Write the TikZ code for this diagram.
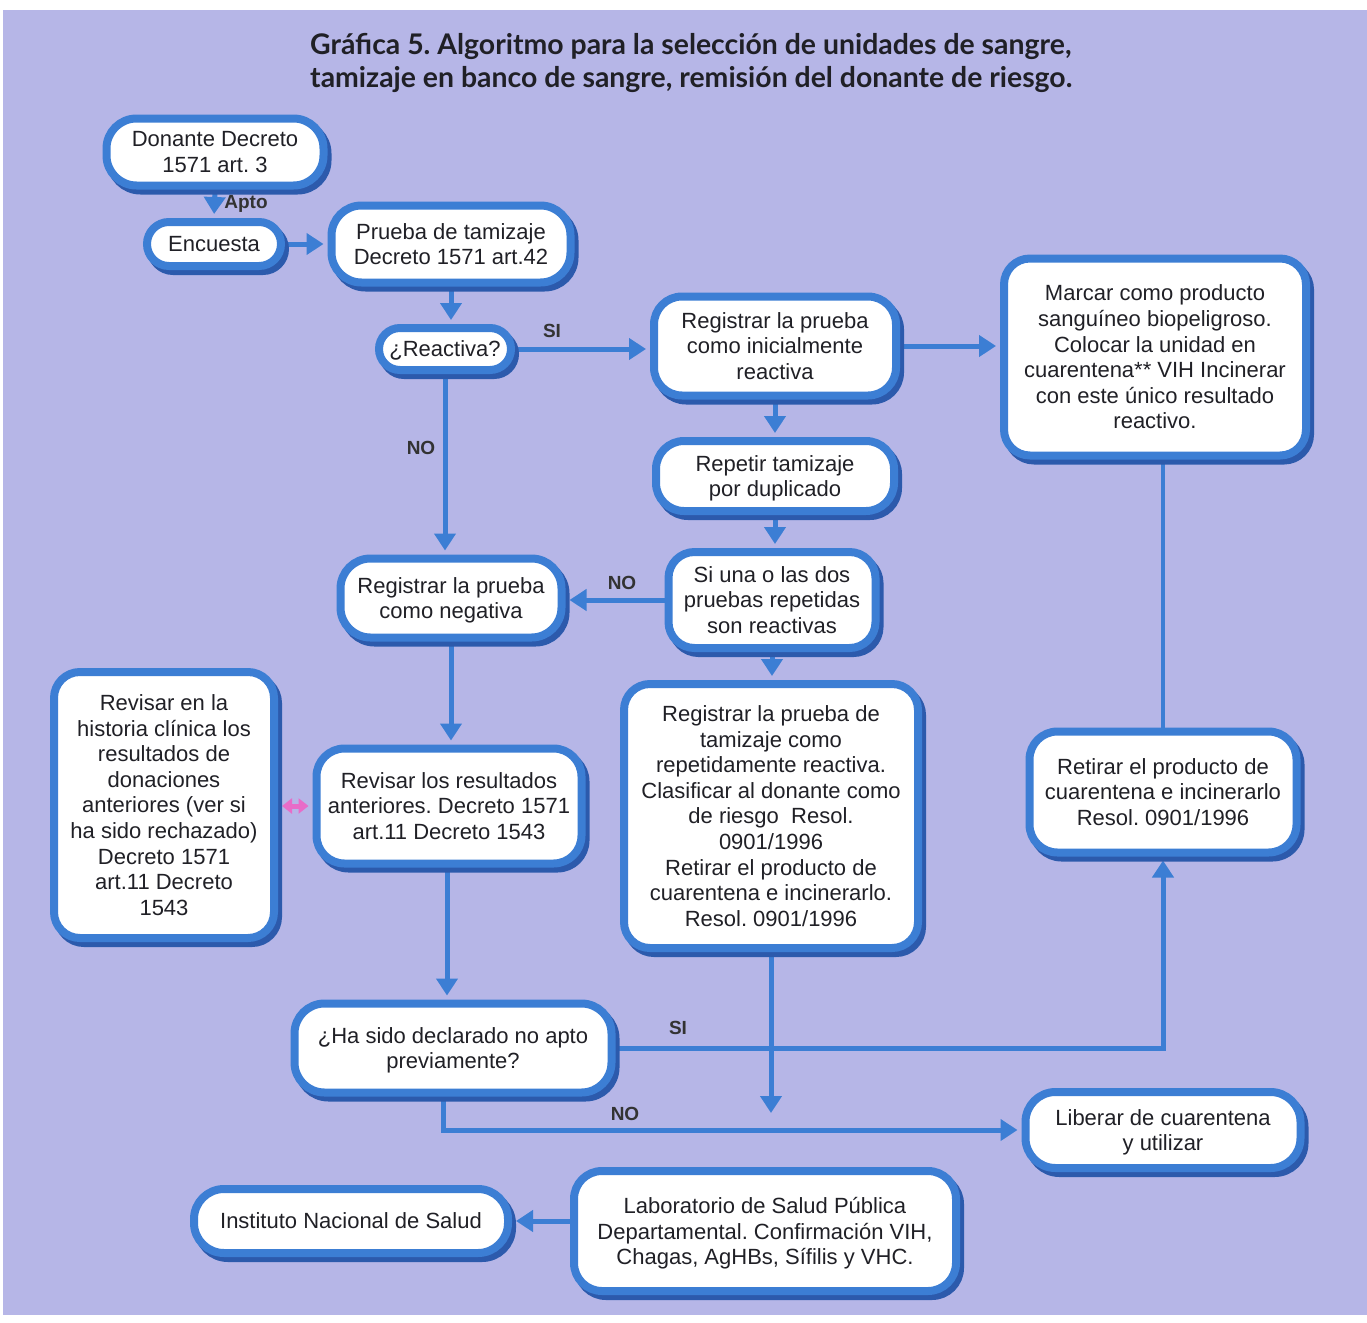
\documentclass[tikz,border=0pt]{standalone}
\usepackage{fontspec}
\setmainfont{Liberation Sans}
\newfontfamily\titlefont{Lato}
\usetikzlibrary{arrows.meta,shadows}
\definecolor{bg}{RGB}{182,182,231}
\definecolor{bblue}{RGB}{60,126,212}
\definecolor{sblue}{RGB}{44,90,172}
\definecolor{txt}{RGB}{32,32,38}
\definecolor{pinkc}{RGB}{232,108,200}
\pgfdeclarelayer{bgfill}
\pgfdeclarelayer{edges}
\pgfsetlayers{bgfill,edges,main}
\frenchspacing
\tikzset{
  box/.style={draw=bblue, line width=8pt, fill=white, rounded corners=#1,
    align=center, inner sep=0pt, text=txt, text depth=0pt,
    font=\fontsize{22}{25.6}\selectfont,
    drop shadow={shadow xshift=4pt, shadow yshift=-5pt, fill=sblue, draw=sblue, line width=8pt, opacity=1}},
  box/.default=26pt,
  conn/.style={draw=bblue, line width=5pt, shorten >=4pt, -{Triangle[length=17pt,width=21pt]}},
  plain/.style={draw=bblue, line width=4pt},
  lbl/.style={font=\bfseries\fontsize{19}{22}\selectfont, text=black!80, inner sep=0pt},
}
\begin{document}
\begin{tikzpicture}[x=1pt,y=-1pt]
\useasboundingbox (0,0) rectangle (1367,1322);
\begin{pgfonlayer}{bgfill}
\fill[white] (0,0) rectangle (1367,1322);
\fill[bg] (3,10) rectangle (1367,1315);
\end{pgfonlayer}

\node[anchor=north west, align=left, inner sep=0pt, text=txt,
  font=\titlefont\bfseries\fontsize{28.4}{33}\selectfont] (title) at (310,33)
  {Gráfica 5. Algoritmo para la selección de unidades de sangre,\\
   tamizaje en banco de sangre, remisión del donante de riesgo.};

\node[box=30pt, minimum width=217pt, minimum height=67pt] (donante) at (215,152) {Donante Decreto\\1571 art. 3};
\node[box=22pt, minimum width=134pt, minimum height=44pt] (encuesta) at (214,244) {Encuesta};
\node[box=30pt, minimum width=239pt, minimum height=77pt] (prueba) at (451,244) {Prueba de tamizaje\\Decreto 1571 art.42};
\node[box=21pt, minimum width=132pt, minimum height=42pt] (reactiva) at (445,349) {¿Reactiva?};
\node[box=28pt, minimum width=242pt, minimum height=99pt] (reginic) at (775,346) {Registrar la prueba\\como inicialmente\\reactiva};
\node[box=26pt, minimum width=302pt, minimum height=197pt] (marcar) at (1155,357) {Marcar como producto\\sanguíneo biopeligroso.\\Colocar la unidad en\\cuarentena** VIH Incinerar\\con este único resultado\\reactivo.};
\node[box=28pt, minimum width=238pt, minimum height=70pt] (repetir) at (775,476) {Repetir tamizaje\\por duplicado};
\node[box=26pt, minimum width=207pt, minimum height=96pt] (siuna) at (772,600) {Si una o las dos\\pruebas repetidas\\son reactivas};
\node[box=30pt, minimum width=221pt, minimum height=79pt] (regneg) at (451,598) {Registrar la prueba\\como negativa};
\node[box=26pt, minimum width=220pt, minimum height=266pt] (historia) at (164,805) {Revisar en la\\historia clínica los\\resultados de\\donaciones\\anteriores (ver si\\ha sido rechazado)\\Decreto 1571\\art.11 Decreto\\1543};
\node[box=28pt, minimum width=265pt, minimum height=115pt] (revres) at (449,806) {Revisar los resultados\\anteriores. Decreto 1571\\art.11 Decreto 1543};
\node[box=26pt, minimum width=294pt, minimum height=264pt] (regrep) at (771,816) {Registrar la prueba de\\tamizaje como\\repetidamente reactiva.\\Clasificar al donante como\\de riesgo\ \ Resol.\\0901/1996\\Retirar el producto de\\cuarentena e incinerarlo.\\Resol. 0901/1996};
\node[box=28pt, minimum width=267pt, minimum height=121pt] (retirar) at (1163,792) {Retirar el producto de\\cuarentena e incinerarlo\\Resol. 0901/1996};
\node[box=30pt, minimum width=317pt, minimum height=89pt] (hasido) at (453,1048) {¿Ha sido declarado no apto\\previamente?};
\node[box=30pt, minimum width=275pt, minimum height=76pt] (liberar) at (1163,1130) {Liberar de cuarentena\\y utilizar};
\node[box=28pt, minimum width=382pt, minimum height=120pt] (lab) at (765,1231) {Laboratorio de Salud Pública\\Departamental. Confirmación VIH,\\Chagas, AgHBs, Sífilis y VHC.};
\node[box=30pt, minimum width=314pt, minimum height=64pt] (inst) at (351,1221) {Instituto Nacional de Salud};

\coordinate (rrend) at (771,1117);

\begin{pgfonlayer}{edges}
\draw[conn] (donante.south) -- (encuesta.north);
\draw[conn] (encuesta.east) -- (prueba.west);
\draw[conn] (prueba.south) -- (prueba.south |- reactiva.north);
\draw[conn] (reactiva.east) -- (reginic.west |- reactiva.east);
\draw[conn] (reginic.east) -- (marcar.west |- reginic.east);
\draw[conn] (reactiva.south) -- (reactiva.south |- regneg.north);
\draw[conn] (reginic.south) -- (repetir.north);
\draw[conn] (repetir.south) -- (repetir.south |- siuna.north);
\draw[conn] (siuna.west) -- (regneg.east |- siuna.west);
\draw[conn] (siuna.south) -- (siuna.south |- regrep.north);
\draw[conn] (regneg.south) -- (regneg.south |- revres.north);
\draw[conn] ([xshift=-2pt]revres.south) -- ([xshift=-2pt]revres.south |- hasido.north);
\draw[conn] (hasido.east) -- (retirar.south |- hasido.east) -- (retirar.south);
\draw[plain] (retirar.north) -- (retirar.north |- marcar.south);
\draw[conn] (regrep.south) -- (regrep.south |- rrend);
\draw[conn] ([xshift=-10pt]hasido.south) |- (liberar.west);
\draw[conn] (lab.west |- inst.east) -- (inst.east);
\draw[draw=pinkc, line width=5pt, shorten <=4pt, shorten >=4pt, {Triangle[length=10pt,width=15pt]}-{Triangle[length=10pt,width=15pt]}] (historia.east |- revres.west) -- (revres.west);
\end{pgfonlayer}

\node[lbl] (lapto) at (246,204) {Apto};
\node[lbl] (lsi1) at (552,331) {SI};
\node[lbl] (lno1) at (421,448) {NO};
\node[lbl] (lno2) at (622,583) {NO};
\node[lbl] (lsi2) at (678,1028) {SI};
\node[lbl] (lno3) at (625,1114) {NO};
\end{tikzpicture}
\end{document}
